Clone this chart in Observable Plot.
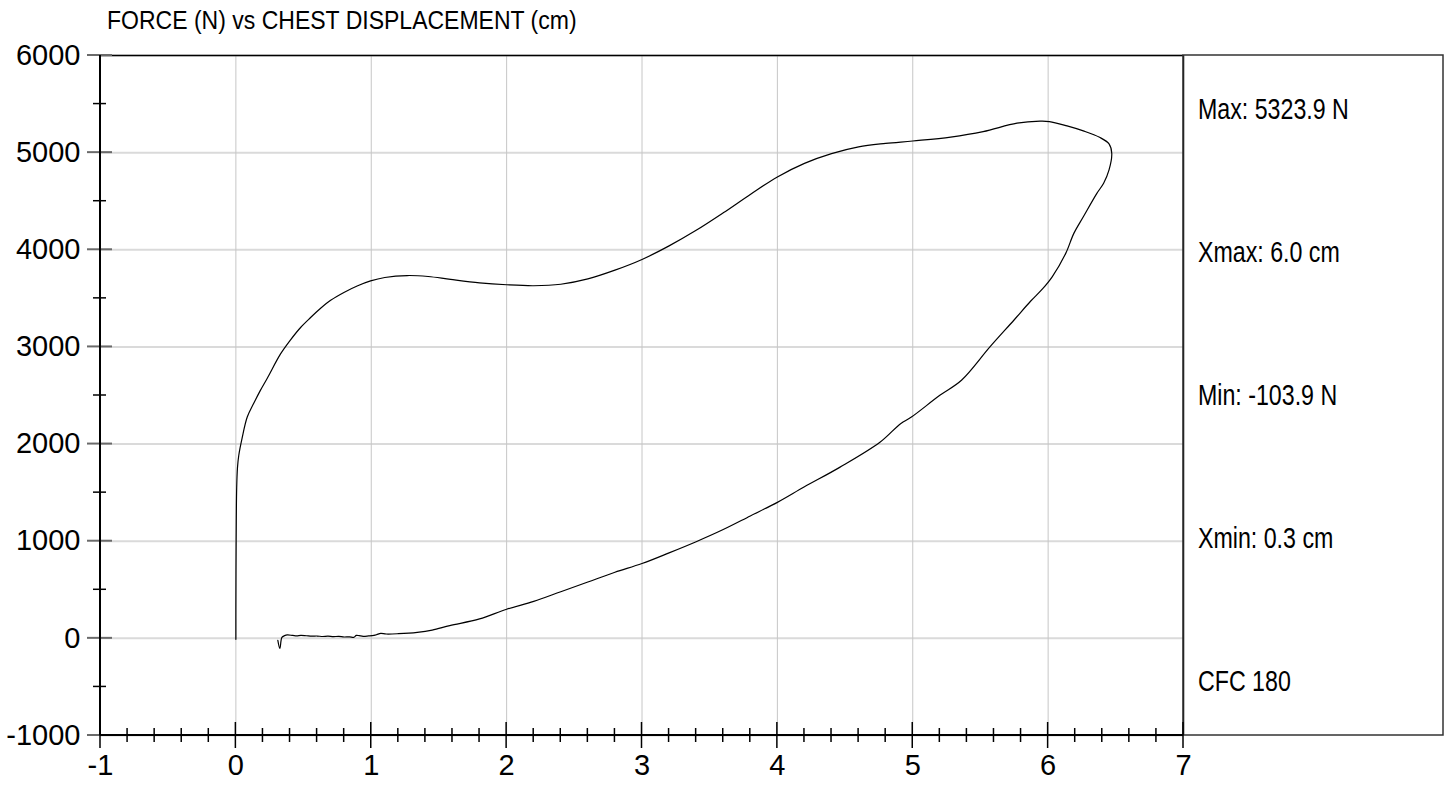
<!DOCTYPE html>
<html>
<head>
<meta charset="utf-8">
<script src="https://cdn.jsdelivr.net/npm/d3@7"></script>
<script src="https://cdn.jsdelivr.net/npm/@observablehq/plot@0.6"></script>
<style>
  html, body { margin: 0; padding: 0; background: #fff; overflow: hidden; }
  #title { height: 40px; padding-left: 107px; box-sizing: border-box;
    font-family: "Liberation Sans", Arial, sans-serif; font-size: 26px;
    line-height: 40px; color: #000; white-space: nowrap; }
  #title span { display: inline-block; transform: scaleX(0.885); transform-origin: 0 50%; }
</style>
</head>
<body>
<div id="title"><span></span></div>
<div id="chart"></div>
<script>
// ---------- data ----------
const titleText = "FORCE (N) vs CHEST DISPLACEMENT (cm)";
const xTicks = [-1, 0, 1, 2, 3, 4, 5, 6, 7];
const yTicks = [-1000, 0, 1000, 2000, 3000, 4000, 5000, 6000];
const statsLabels = ["Max: 5323.9 N", "Xmax: 6.0 cm", "Min: -103.9 N", "Xmin: 0.3 cm", "CFC 180"];

// chest displacement (cm), in traversal order
const dispCm = [
  0, 0, 0.002, 0.006, 0.012, 0.021, 0.046, 0.084, 0.133, 0.18, 0.231, 0.33, 0.404, 0.478, 0.55, 0.626, 0.70, 0.798, 0.90, 0.995, 1.1, 1.266, 1.42, 1.586,
  1.8, 2.0, 2.2, 2.4, 2.6, 2.8, 3.0, 3.2, 3.4, 3.6, 3.8, 4.0, 4.2, 4.4, 4.6, 4.8, 5.0, 5.28, 5.52, 5.77, 5.94, 6.01,
  6.14, 6.26, 6.38, 6.45, 6.47, 6.45, 6.41, 6.36, 6.26, 6.19, 6.13, 6.03, 5.96, 5.87, 5.75, 5.57, 5.36, 5.2, 4.99, 4.91, 4.76, 4.46,
  4.2, 4.0, 3.8, 3.6, 3.4, 3.2, 3.0, 2.8, 2.6, 2.4, 2.2, 2.0, 1.8, 1.58, 1.45, 1.34, 1.2, 1.11, 1.07, 1.04, 1.02,
  0.98, 0.94, 0.91, 0.89, 0.87, 0.84, 0.80, 0.76, 0.72, 0.68, 0.64, 0.60, 0.56, 0.52, 0.48, 0.45, 0.42, 0.38, 0.36, 0.34, 0.325, 0.31
];
// force (N), same order
const forceN = [
  -10, 300, 1010, 1550, 1760, 1880, 2061, 2278, 2422, 2550, 2675, 2928, 3073, 3200, 3300, 3398, 3480, 3561, 3630, 3680, 3715, 3735, 3725, 3695,
  3660, 3640, 3630, 3645, 3700, 3790, 3900, 4040, 4200, 4380, 4570, 4750, 4890, 4990, 5060, 5095, 5120, 5160, 5216, 5303, 5324, 5320,
  5275, 5224, 5158, 5090, 4994, 4822, 4685, 4581, 4340, 4169, 3963, 3722, 3600, 3470, 3280, 3000, 2657, 2502, 2278, 2210, 2021, 1760,
  1560, 1400, 1260, 1120, 995, 880, 770, 680, 580, 480, 380, 300, 200, 131, 85, 62, 48, 45, 52, 38, 31,
  25, 21, 28, 31, 10, 16, 14, 20, 18, 22, 19, 24, 22, 27, 31, 26, 30, 35, 28, 10, -104, -20
];

const curve = dispCm.map((x, i) => ({x, y: forceN[i]}));

// ---------- decorations drawn with the plot's scales ----------
function decorations(index, scales, values, dims) {
  const {x, y} = scales;
  const g = d3.create("svg:g");
  const left = x(-1), bottom = y(-1000), right = x(7), top = y(6000);
  const yMinor = d3.range(-500, 6000, 1000);
  const xMinor = d3.range(-1, 7.0001, 0.2).filter(v => Math.abs(v - Math.round(v)) > 1e-6);
  // right side panel
  g.append("rect").attr("x", right).attr("y", top)
    .attr("width", dims.width - right - 5).attr("height", bottom - top)
    .attr("fill", "none").attr("stroke", "#333").attr("stroke-width", 1.5);
  // y ticks
  for (const v of yTicks) g.append("line").attr("x1", left - 13).attr("x2", left + 12)
    .attr("y1", y(v)).attr("y2", y(v)).attr("stroke", "#6a6a6a").attr("stroke-width", 2);
  for (const v of yMinor) g.append("line").attr("x1", left - 7).attr("x2", left + 6)
    .attr("y1", y(v)).attr("y2", y(v)).attr("stroke", "#000").attr("stroke-width", 1.5);
  // x ticks
  for (const v of xTicks) g.append("line").attr("x1", x(v)).attr("x2", x(v))
    .attr("y1", bottom - 13).attr("y2", bottom + 13).attr("stroke", "#000").attr("stroke-width", 1.5);
  for (const v of xMinor) g.append("line").attr("x1", x(v)).attr("x2", x(v))
    .attr("y1", bottom - 7).attr("y2", bottom + 7).attr("stroke", "#000").attr("stroke-width", 1.5);
  // axis lines
  g.append("line").attr("x1", left).attr("x2", left).attr("y1", top).attr("y2", bottom)
    .attr("stroke", "#000").attr("stroke-width", 2);
  g.append("line").attr("x1", left).attr("x2", right).attr("y1", bottom).attr("y2", bottom)
    .attr("stroke", "#000").attr("stroke-width", 2);
  // stats labels
  const step = (bottom - top - 108) / (statsLabels.length - 1);
  statsLabels.forEach((t, i) => {
    g.append("text")
      .attr("transform", `translate(${right + 15},${top + 54 + i * step}) scale(0.8,1)`)
      .attr("dy", "0.36em")
      .attr("text-anchor", "start")
      .attr("font-family", '"Liberation Sans", Arial, sans-serif')
      .attr("font-size", 29).attr("fill", "#000").text(t);
  });
  return g.node();
}

document.querySelector("#title span").textContent = titleText;

const chart = Plot.plot({
  width: 1448,
  height: 745,
  marginTop: 15,
  marginBottom: 50,
  marginLeft: 100,
  marginRight: 265,
  style: {fontFamily: '"Liberation Sans", Arial, sans-serif', fontSize: "29px", color: "#000", background: "#fff"},
  x: {domain: [-1, 7]},
  y: {domain: [-1000, 6000]},
  marks: [
    Plot.gridY(yTicks, {stroke: "#dadada", strokeOpacity: 1, strokeWidth: 2}),
    Plot.gridX(xTicks, {stroke: "#c6c6c6", strokeOpacity: 1, strokeWidth: 1}),
    Plot.ruleY([6000], {stroke: "#000", strokeWidth: 1.5}),
    Plot.ruleX([7], {stroke: "#000", strokeWidth: 1.5}),
    Plot.line(curve, {x: "x", y: "y", stroke: "#000", strokeWidth: 1.2, curve: "catmull-rom"}),
    Plot.axisY({ticks: yTicks, tickSize: 0, tickPadding: 20, label: null, tickFormat: d => String(d), fontSize: 29}),
    Plot.axisX({ticks: xTicks, tickSize: 0, tickPadding: 19, label: null, tickFormat: d => String(d), fontSize: 29}),
    decorations
  ]
});
document.getElementById("chart").appendChild(chart);
</script>
</body>
</html>
